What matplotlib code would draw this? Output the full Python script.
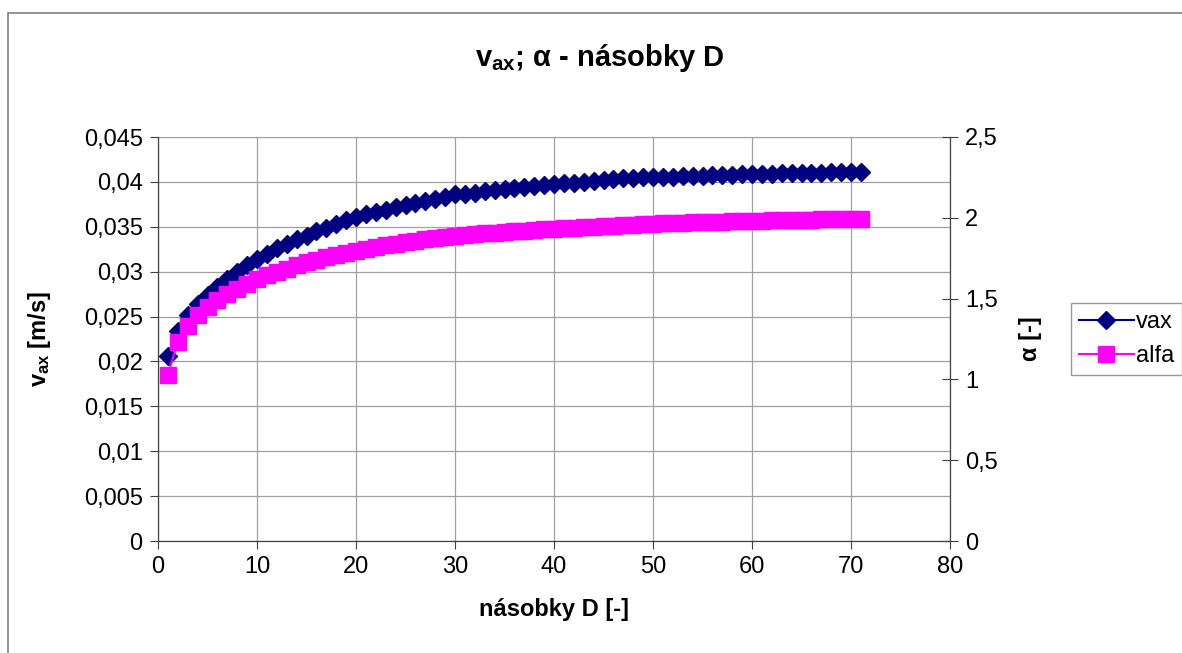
import numpy as np
import matplotlib
matplotlib.use('Agg')
import matplotlib.pyplot as plt
from matplotlib.patches import Rectangle
from matplotlib.ticker import FuncFormatter

plt.rcParams.update({'font.family': 'Liberation Sans', 'font.size': 17,
                     'mathtext.fontset': 'custom',
                     'mathtext.rm': 'Liberation Sans',
                     'mathtext.bf': 'Liberation Sans:bold'})

# multiples of D
nasobky = list(range(1, 72))
vax = [0.0206, 0.0234, 0.0252, 0.0264, 0.0274, 0.0283, 0.0292, 0.0300, 0.0307, 0.0314,
       0.0320, 0.0326, 0.0331, 0.0336, 0.0340, 0.0345, 0.0349, 0.0353, 0.0357, 0.0361,
       0.0364, 0.0366, 0.0369, 0.0372, 0.0374, 0.0377, 0.0379, 0.0381, 0.0383, 0.0386,
       0.0387, 0.0388, 0.0390, 0.0391, 0.0392, 0.0393, 0.0394, 0.0395, 0.0396, 0.0398,
       0.0399, 0.0399, 0.0400, 0.0401, 0.0402, 0.0403, 0.0404, 0.0404, 0.0405, 0.0406,
       0.0406, 0.0406, 0.0407, 0.0407, 0.0407, 0.0408, 0.0408, 0.0408, 0.0409, 0.0409,
       0.0409, 0.0409, 0.0410, 0.0410, 0.0410, 0.0410, 0.0410, 0.0411, 0.0411, 0.0411,
       0.0411]
alfa = [1.03, 1.23, 1.33, 1.40, 1.45, 1.49, 1.53, 1.56, 1.59, 1.62,
        1.645, 1.665, 1.685, 1.705, 1.725, 1.74, 1.755, 1.77, 1.783, 1.795,
        1.807, 1.818, 1.829, 1.840, 1.850, 1.859, 1.867, 1.875, 1.883, 1.890,
        1.895, 1.900, 1.905, 1.909, 1.913, 1.917, 1.921, 1.925, 1.929, 1.933,
        1.936, 1.939, 1.942, 1.945, 1.948, 1.951, 1.954, 1.957, 1.960, 1.963,
        1.965, 1.967, 1.969, 1.971, 1.973, 1.975, 1.977, 1.978, 1.980, 1.981,
        1.983, 1.984, 1.985, 1.987, 1.988, 1.989, 1.990, 1.991, 1.992, 1.993,
        1.994]

def carka(v, pos):
    s = ('%.3f' % v).rstrip('0').rstrip('.')
    return s.replace('.', ',')

fig = plt.figure(figsize=(11.82, 6.53), dpi=100)
fig.patches.append(Rectangle((8/1182, -0.1), 1.2, 1 - 13/653 + 0.1,
                             transform=fig.transFigure, fill=False,
                             edgecolor='#808080', linewidth=1.2))

ax = fig.add_axes([158/1182, 1 - 541/653, 792/1182, 404/653])
ax2 = ax.twinx()

ax.plot(nasobky, vax, color='#000080', marker='D', markersize=9.5, linewidth=1.5, label='vax')
ax2.plot(nasobky, alfa, color='#FF00FF', marker='s', markersize=11, linewidth=1.5, label='alfa')

ax.set_xlim(0, 80)
ax.set_ylim(0, 0.045)
ax2.set_ylim(0, 2.5)
ax.set_xticks(np.arange(0, 81, 10))
ax.set_yticks(np.arange(0, 0.0451, 0.005))
ax2.set_yticks(np.arange(0, 2.51, 0.5))
ax.yaxis.set_major_formatter(FuncFormatter(carka))
ax2.yaxis.set_major_formatter(FuncFormatter(carka))

ax.grid(True, color='#a0a0a0', linewidth=0.9)
ax.set_axisbelow(True)
ax.spines['top'].set_color('#a0a0a0')
ax2.spines['top'].set_visible(False)
for a in (ax, ax2):
    a.spines['left'].set_color('#404040')
    a.spines['bottom'].set_color('#404040')
    a.spines['right'].set_color('#404040')
ax.tick_params(axis='both', direction='out', length=6, color='#404040', pad=5)
ax2.tick_params(axis='y', direction='inout', length=12, color='#404040', pad=5)

ax.set_xlabel('násobky D [-]', fontweight='bold', labelpad=14)
ax.set_ylabel(r'$\mathbf{v_{ax}}$ [m/s]', fontweight='bold', labelpad=22)
ax2.set_ylabel('α [-]', fontweight='bold', labelpad=15)

fig.text(600/1182, 1 - 58/653, r'$\mathbf{v_{ax}}$; α - násobky D', fontsize=21,
         fontweight='bold', ha='center', va='center')

h1, l1 = ax.get_legend_handles_labels()
h2, l2 = ax2.get_legend_handles_labels()
leg = fig.legend(h1 + h2, l1 + l2, loc='upper left', fontsize=17,
                 bbox_to_anchor=(1071/1182, 1 - 303/653), frameon=True,
                 fancybox=False, edgecolor='#808080', borderpad=0.35,
                 handlelength=2.3, handletextpad=0.1, labelspacing=0.5,
                 borderaxespad=0)
leg.get_frame().set_linewidth(1)

fig.savefig('out.png', dpi=100)
